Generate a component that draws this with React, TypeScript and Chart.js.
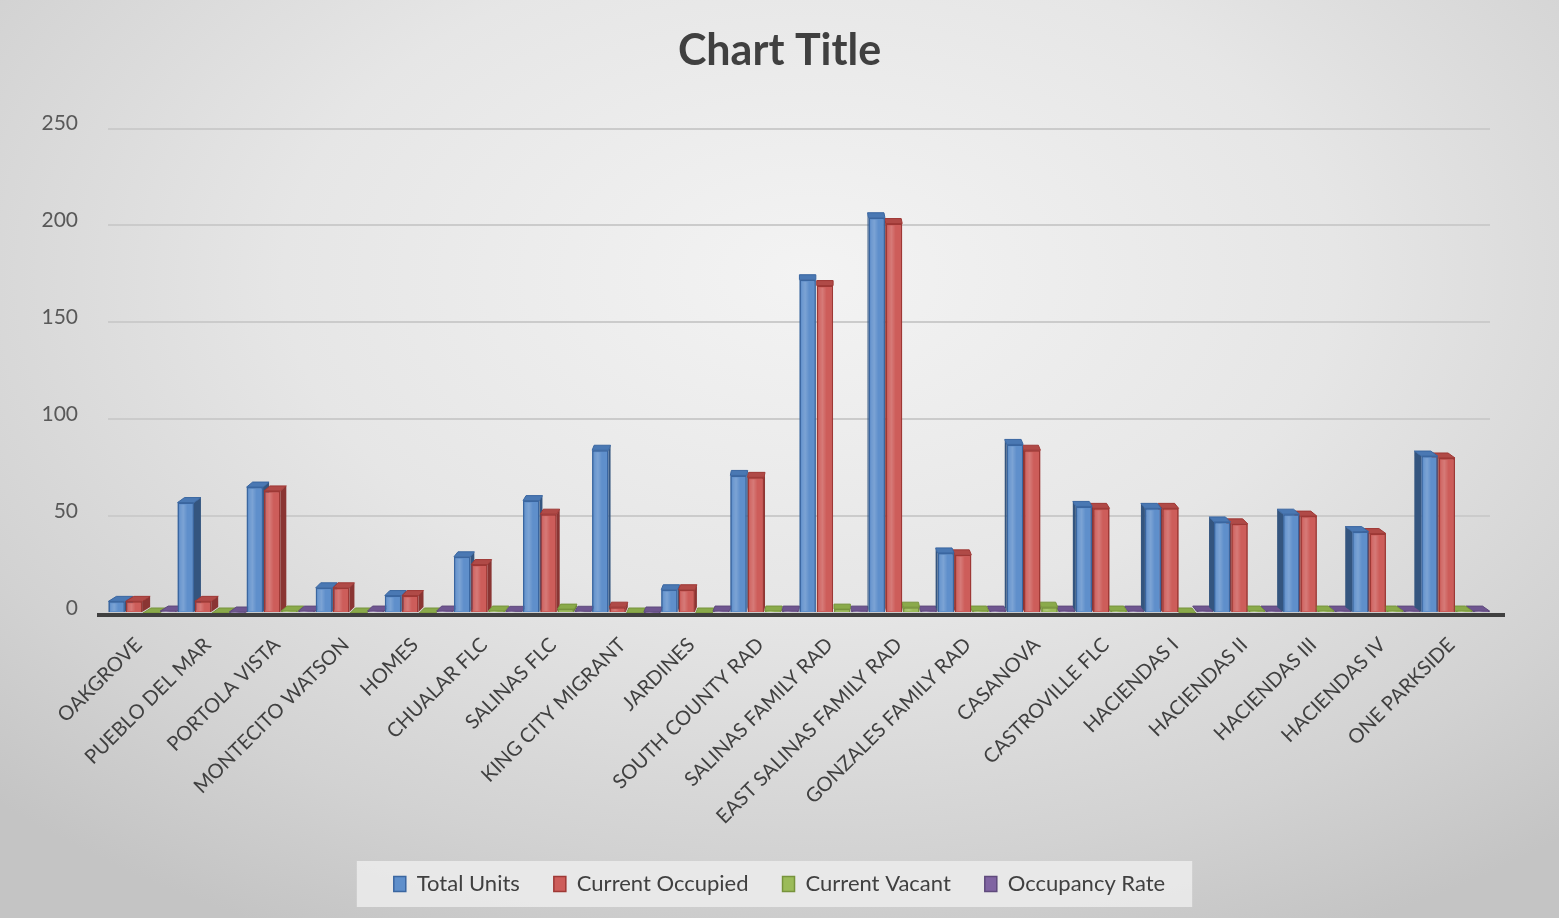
import React, { useEffect, useRef } from "react";
import { Chart, registerables } from "chart.js";

Chart.register(...registerables);

const categories = [
  "OAKGROVE", "PUEBLO DEL MAR", "PORTOLA VISTA", "MONTECITO WATSON", "HOMES",
  "CHUALAR FLC", "SALINAS FLC", "KING CITY MIGRANT", "JARDINES", "SOUTH COUNTY RAD",
  "SALINAS FAMILY RAD", "EAST SALINAS FAMILY RAD", "GONZALES FAMILY RAD", "CASANOVA",
  "CASTROVILLE FLC", "HACIENDAS I", "HACIENDAS II", "HACIENDAS III", "HACIENDAS IV", "ONE PARKSIDE",
];
const totalUnits = [6, 57, 65, 13, 9, 29, 58, 84, 12, 71, 172, 204, 31, 87, 55, 54, 47, 51, 42, 81];
const currentOccupied = [6, 6, 63, 13, 9, 25, 51, 3, 12, 70, 169, 201, 30, 84, 54, 54, 46, 50, 41, 80];
const currentVacant = [0, 0, 1, 0, 0, 1, 2, 0, 0, 1, 2, 3, 1, 3, 1, 0, 1, 1, 1, 1];
const occupancyRate = [1, 0.11, 0.97, 1, 1, 0.86, 0.88, 0.04, 1, 0.99, 0.98, 0.99, 0.97, 0.97, 0.98, 1, 0.98, 0.98, 0.98, 0.99];
const yTicks = [0, 50, 100, 150, 200, 250];

const FONT = "Lato, 'Open Sans', sans-serif";

const seriesStyles = [
  { label: "Total Units", data: totalUnits, front: "#5f8fcb", border: "#3a66a0", side: "#34557f", top: "#4a78b3" },
  { label: "Current Occupied", data: currentOccupied, front: "#cd5d5a", border: "#9e3835", side: "#8a3533", top: "#b04a47" },
  { label: "Current Vacant", data: currentVacant, front: "#9bbb59", border: "#77933c", side: "#6a8535", top: "#8aaa4a" },
  { label: "Occupancy Rate", data: occupancyRate, front: "#8064a2", border: "#5f4a7c", side: "#54416d", top: "#6f5690" },
];

const bar3dPlugin = {
  id: "bar3d",
  afterDatasetsDraw(chart: any) {
    const ctx = chart.ctx;
    const area = chart.chartArea;
    const cx = (area.left + area.right) / 2;
    const half = (area.right - area.left) / 2;
    const metas = [0, 1, 2, 3].map((i) => chart.getDatasetMeta(i));
    const n = categories.length;
    ctx.save();
    for (let j = 0; j < n; j++) {
      const el0 = metas[0].data[j];
      if (!el0) continue;
      const dx = Math.round(((cx - el0.x) / half) * 8);
      const dy = -5;
      const order = dx >= 0 ? [0, 1, 2, 3] : [3, 2, 1, 0];
      for (const i of order) {
        const el = metas[i].data[j];
        const st = seriesStyles[i];
        const p = el.getProps(["x", "y", "base", "width"], true);
        const left = p.x - p.width / 2;
        const right = p.x + p.width / 2;
        const top = Math.min(p.y, p.base);
        const base = Math.max(p.y, p.base);
        const sx = dx >= 0 ? right : left;
        ctx.beginPath();
        ctx.moveTo(sx, top);
        ctx.lineTo(sx + dx, top + dy);
        ctx.lineTo(sx + dx, base + dy);
        ctx.lineTo(sx, base);
        ctx.closePath();
        ctx.fillStyle = st.side;
        ctx.fill();
        ctx.beginPath();
        ctx.moveTo(left, top);
        ctx.lineTo(right, top);
        ctx.lineTo(right + dx, top + dy);
        ctx.lineTo(left + dx, top + dy);
        ctx.closePath();
        ctx.fillStyle = st.top;
        ctx.fill();
        ctx.strokeStyle = st.border;
        ctx.lineWidth = 1;
        ctx.stroke();
        if (base - top > 0.5) {
          el.draw(ctx);
          const g = ctx.createLinearGradient(left, 0, right, 0);
          g.addColorStop(0, "rgba(255,255,255,0)");
          g.addColorStop(0.35, "rgba(255,255,255,0.18)");
          g.addColorStop(0.6, "rgba(255,255,255,0)");
          ctx.fillStyle = g;
          ctx.fillRect(left + 2, top + 2, p.width - 4, base - top - 3);
        }
      }
    }
    ctx.strokeStyle = "#404040";
    ctx.lineWidth = 4;
    ctx.beginPath();
    ctx.moveTo(area.left - 11, area.bottom + 2);
    ctx.lineTo(area.right + 15, area.bottom + 2);
    ctx.stroke();
    ctx.restore();
  },
};

const legendBoxPlugin = {
  id: "legendBox",
  beforeDraw(chart: any) {
    const lg = chart.legend;
    if (!lg || !lg.legendHitBoxes || !lg.legendHitBoxes.length) return;
    const hb = lg.legendHitBoxes;
    const first = hb[0];
    const last = hb[hb.length - 1];
    const x0 = first.left - 37;
    const x1 = last.left + last.width + 27;
    const yc = first.top + first.height / 2;
    const ctx = chart.ctx;
    ctx.save();
    ctx.fillStyle = "rgba(236,236,236,0.85)";
    ctx.fillRect(x0, yc - 23, x1 - x0, 46);
    ctx.restore();
  },
};

export default function App() {
  const ref = useRef<HTMLCanvasElement | null>(null);
  useEffect(() => {
    document.body.style.margin = "0";
    const canvas = ref.current!;
    const chart = new Chart(canvas, {
      type: "bar",
      data: {
        labels: categories,
        datasets: seriesStyles.map((s) => ({
          label: s.label,
          data: s.data,
          backgroundColor: s.front,
          borderColor: s.border,
          borderWidth: 1.5,
          barPercentage: 0.95,
          categoryPercentage: 1.0,
        })),
      },
      options: {
        animation: false,
        responsive: false,
        maintainAspectRatio: false,
        layout: { padding: { left: 0, right: 0, top: 0, bottom: 13 } },
        plugins: {
          title: {
            display: true,
            text: "Chart Title",
            color: "#404040",
            font: { family: FONT, size: 43, weight: "bold" },
            padding: { top: 25, bottom: 52 },
          },
          legend: {
            position: "bottom",
            labels: {
              color: "#404040",
              font: { family: FONT, size: 22 },
              boxWidth: 12,
              boxHeight: 15,
              padding: 34,
            },
          },
          tooltip: { enabled: false },
        },
        scales: {
          x: {
            grid: { display: false, drawTicks: false },
            border: { display: false },
            ticks: {
              color: "#404040",
              font: { family: FONT, size: 20 },
              minRotation: 45,
              maxRotation: 45,
              autoSkip: false,
              padding: 20,
              labelOffset: -4,
            },
            afterFit(scale: any) {
              scale.height = 226;
            },
          },
          y: {
            min: 0,
            max: 250,
            afterBuildTicks(scale: any) {
              scale.ticks = yTicks.map((v) => ({ value: v }));
            },
            grid: { color: "#cbcbcb", lineWidth: 2, drawTicks: false },
            border: { display: false },
            ticks: {
              color: "#595959",
              font: { family: FONT, size: 21 },
              padding: 30,
              labelOffset: -5,
            },
            afterFit(scale: any) {
              scale.width = 108;
            },
          },
          yRight: {
            position: "right",
            display: true,
            grid: { display: false, drawTicks: false },
            border: { display: false },
            ticks: { display: false },
            afterFit(scale: any) {
              scale.width = 69;
            },
          },
        },
      },
      plugins: [bar3dPlugin, legendBoxPlugin],
    });
    return () => chart.destroy();
  }, []);

  return (
    <div
      style={{
        width: 1559,
        height: 918,
        background:
          "radial-gradient(ellipse 75% 80% at 52% 30%, #f3f3f3 0%, #e6e6e6 45%, #d2d2d2 80%, #c4c4c4 100%)",
      }}
    >
      <canvas ref={ref} width={1559} height={918} style={{ display: "block" }} />
    </div>
  );
}
